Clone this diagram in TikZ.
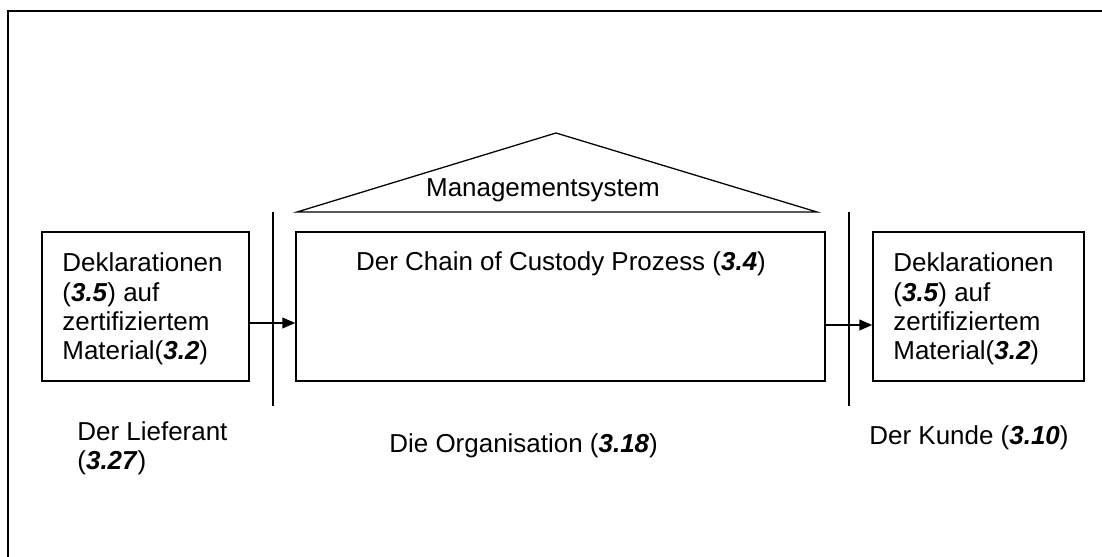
\documentclass[tikz,border=0pt]{standalone}
\usepackage{fontspec}
\setmainfont{Liberation Sans}
\usetikzlibrary{arrows.meta, fit}
\tikzstyle{box} = [rectangle, draw=black, line width=0.7pt, inner sep=0pt]
\tikzstyle{txt} = [inner sep=0pt, align=left, anchor=base west, font=\fontsize{12.2}{13.8}\selectfont]
\tikzstyle{divider} = [line width=1pt]
\tikzstyle{outer} = [line width=1.1pt]
\tikzstyle{roof} = [line width=0.6pt, line join=miter]
\tikzstyle{arrow} = [line width=0.7pt, -{Triangle[length=6pt,width=5pt]}]
\newcommand{\nr}[1]{\textbf{\textit{#1}}}

\begin{document}
\begin{tikzpicture}[x=0.47pt, y=-0.47pt]
\useasboundingbox (0,0) rectangle (1102,557);
\draw [outer] (8,557) -- (8,11) -- (1102,11);

% Lieferant (multi-line text: base = last line)
\node (ltext) [txt] at (62,360) {Deklarationen\\(\nr{3.5}) auf\\zertifiziertem\\Material(\nr{3.2})};
\node (lbox) [box, fit={(42,232)(249,381)}] {};
\node (lname) [txt] at (77,470) {Der Lieferant\\(\nr{3.27})};

% Organisation
\node (proc) [box, fit={(296,232)(825,381)}] {};
\node (ptext) [txt, anchor=base] at (561,271) {Der Chain of Custody Prozess (\nr{3.4})};
\draw [roof] (297,212) -- (556,133) -- (817,212) -- cycle;
\node (mgmt) [txt, anchor=base] at (543,197) {Managementsystem};
\node (oname) [txt] at (389,453) {Die Organisation (\nr{3.18})};

% Kunde
\node (rtext) [txt] at (893,360) {Deklarationen\\(\nr{3.5}) auf\\zertifiziertem\\Material(\nr{3.2})};
\node (rbox) [box, fit={(873,232)(1084,381)}] {};
\node (rname) [txt] at (869,445) {Der Kunde (\nr{3.10})};

% Grenzen
\draw [divider] (273,212) -- (273,406);
\draw [divider] (849,212) -- (849,406);

\coordinate (ay) at (0,323);
\coordinate (by) at (0,325);
\draw [arrow] (lbox.east |- ay) -- (proc.west |- ay);
\draw [arrow] (proc.east |- by) -- (rbox.west |- by);

\end{tikzpicture}
\end{document}
